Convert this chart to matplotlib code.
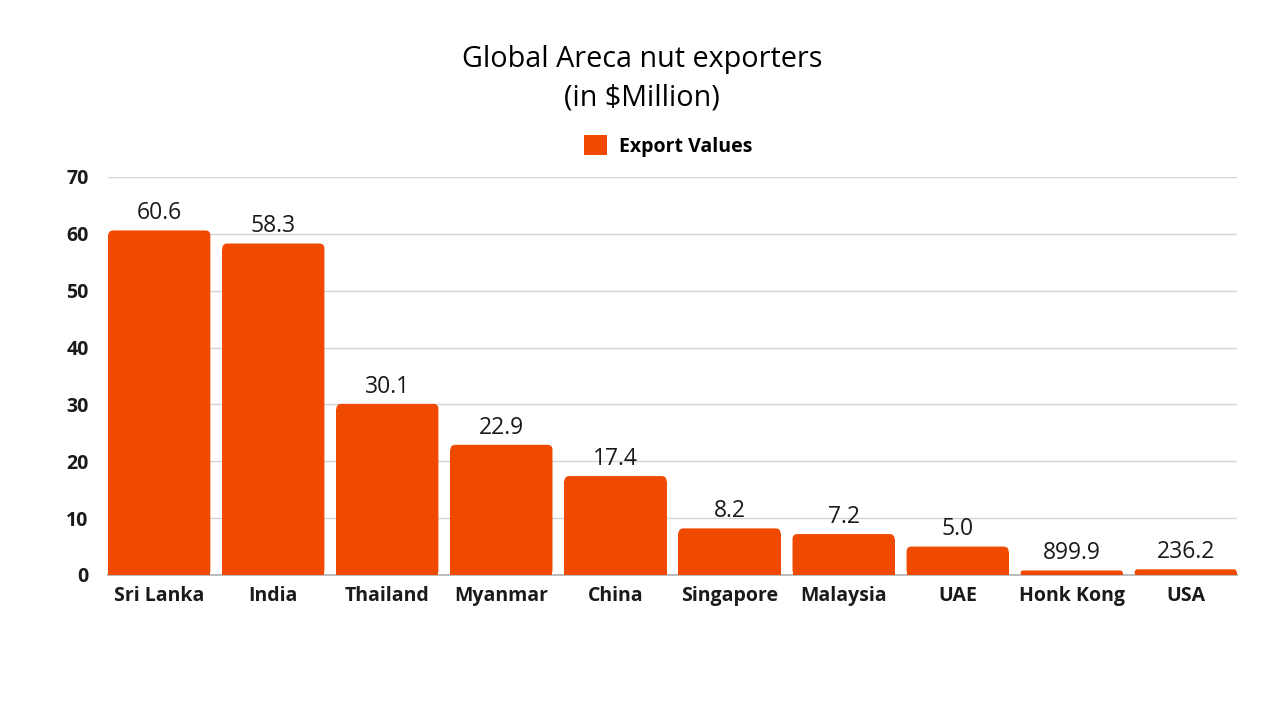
import matplotlib
matplotlib.use("Agg")
import matplotlib.pyplot as plt
from matplotlib.patches import FancyBboxPatch, Rectangle, Patch

countries = ["Sri Lanka", "India", "Thailand", "Myanmar", "China", "Singapore",
             "Malaysia", "UAE", "Honk Kong", "USA"]
values = [60.6, 58.3, 30.1, 22.9, 17.4, 8.2, 7.2, 5.0, 0.8, 1.0]
value_labels = ["60.6", "58.3", "30.1", "22.9", "17.4", "8.2", "7.2", "5.0", "899.9", "236.2"]
yticks = [0, 10, 20, 30, 40, 50, 60, 70]

BAR = "#f04a00"
TXT = "#1a1a1a"
plt.rcParams['font.family'] = ['Open Sans', 'DejaVu Sans']

fig = plt.figure(figsize=(12.8, 7.2), dpi=100)
ax = fig.add_axes([108/1280, 1-575/720, (1237-108)/1280, (575-177)/720])
ax.set_xlim(-0.45, len(countries) - 0.55)
ax.set_ylim(0, 70)

width = 0.895
# pixel scale for rounded corners
xpx = (1237-108) / (len(countries) - 1 + 0.9)
ypx = (575-177) / 70
aspect = xpx / ypx
r_x = 5 / xpx
for i, v in enumerate(values):
    x0 = i - width/2
    r = min(r_x, v / aspect / 2)
    p = FancyBboxPatch((x0, 0), width, v,
                       boxstyle=f"round,pad=0,rounding_size={r}",
                       mutation_aspect=aspect, facecolor=BAR, edgecolor='none', zorder=3)
    ax.add_patch(p)
    hsq = max(v - r*aspect, 0)
    ax.add_patch(Rectangle((x0, 0), width, hsq, facecolor=BAR, edgecolor='none', zorder=3))
    ax.text(i, v + 0.9, value_labels[i], ha='center', va='bottom', fontsize=16.5, color=TXT, zorder=4)

ax.set_yticks(yticks)
ax.set_yticklabels([str(t) for t in yticks], fontsize=14, fontweight='bold', color=TXT)
ax.set_xticks(range(len(countries)))
ax.set_xticklabels(countries, fontsize=14, fontweight='bold', color=TXT)
ax.tick_params(axis='y', length=0, pad=14)
ax.tick_params(axis='x', length=0, pad=8)
ax.grid(axis='y', color='#d4d4d4', linewidth=1, zorder=0)
for s in ['top', 'right', 'left']:
    ax.spines[s].set_visible(False)
ax.spines['bottom'].set_color('#bdbdbd')
ax.spines['bottom'].set_linewidth(1.5)
ax.spines['bottom'].set_zorder(2)

fig.text(642/1280, 1-59/720, "Global Areca nut exporters", ha='center', va='center', fontsize=20.7, color='black')
fig.text(642/1280, 1-98/720, "(in $Million)", ha='center', va='center', fontsize=20.7, color='black')

fig.legend(handles=[Patch(facecolor=BAR, edgecolor='none', label="Export Values")],
           loc='center', bbox_to_anchor=(668/1280, 1-146/720), frameon=False,
           prop={'size': 14, 'weight': 'bold'}, handlelength=1.2, handleheight=1.2,
           handletextpad=0.6)

fig.savefig("out.png", dpi=100, facecolor='white')
